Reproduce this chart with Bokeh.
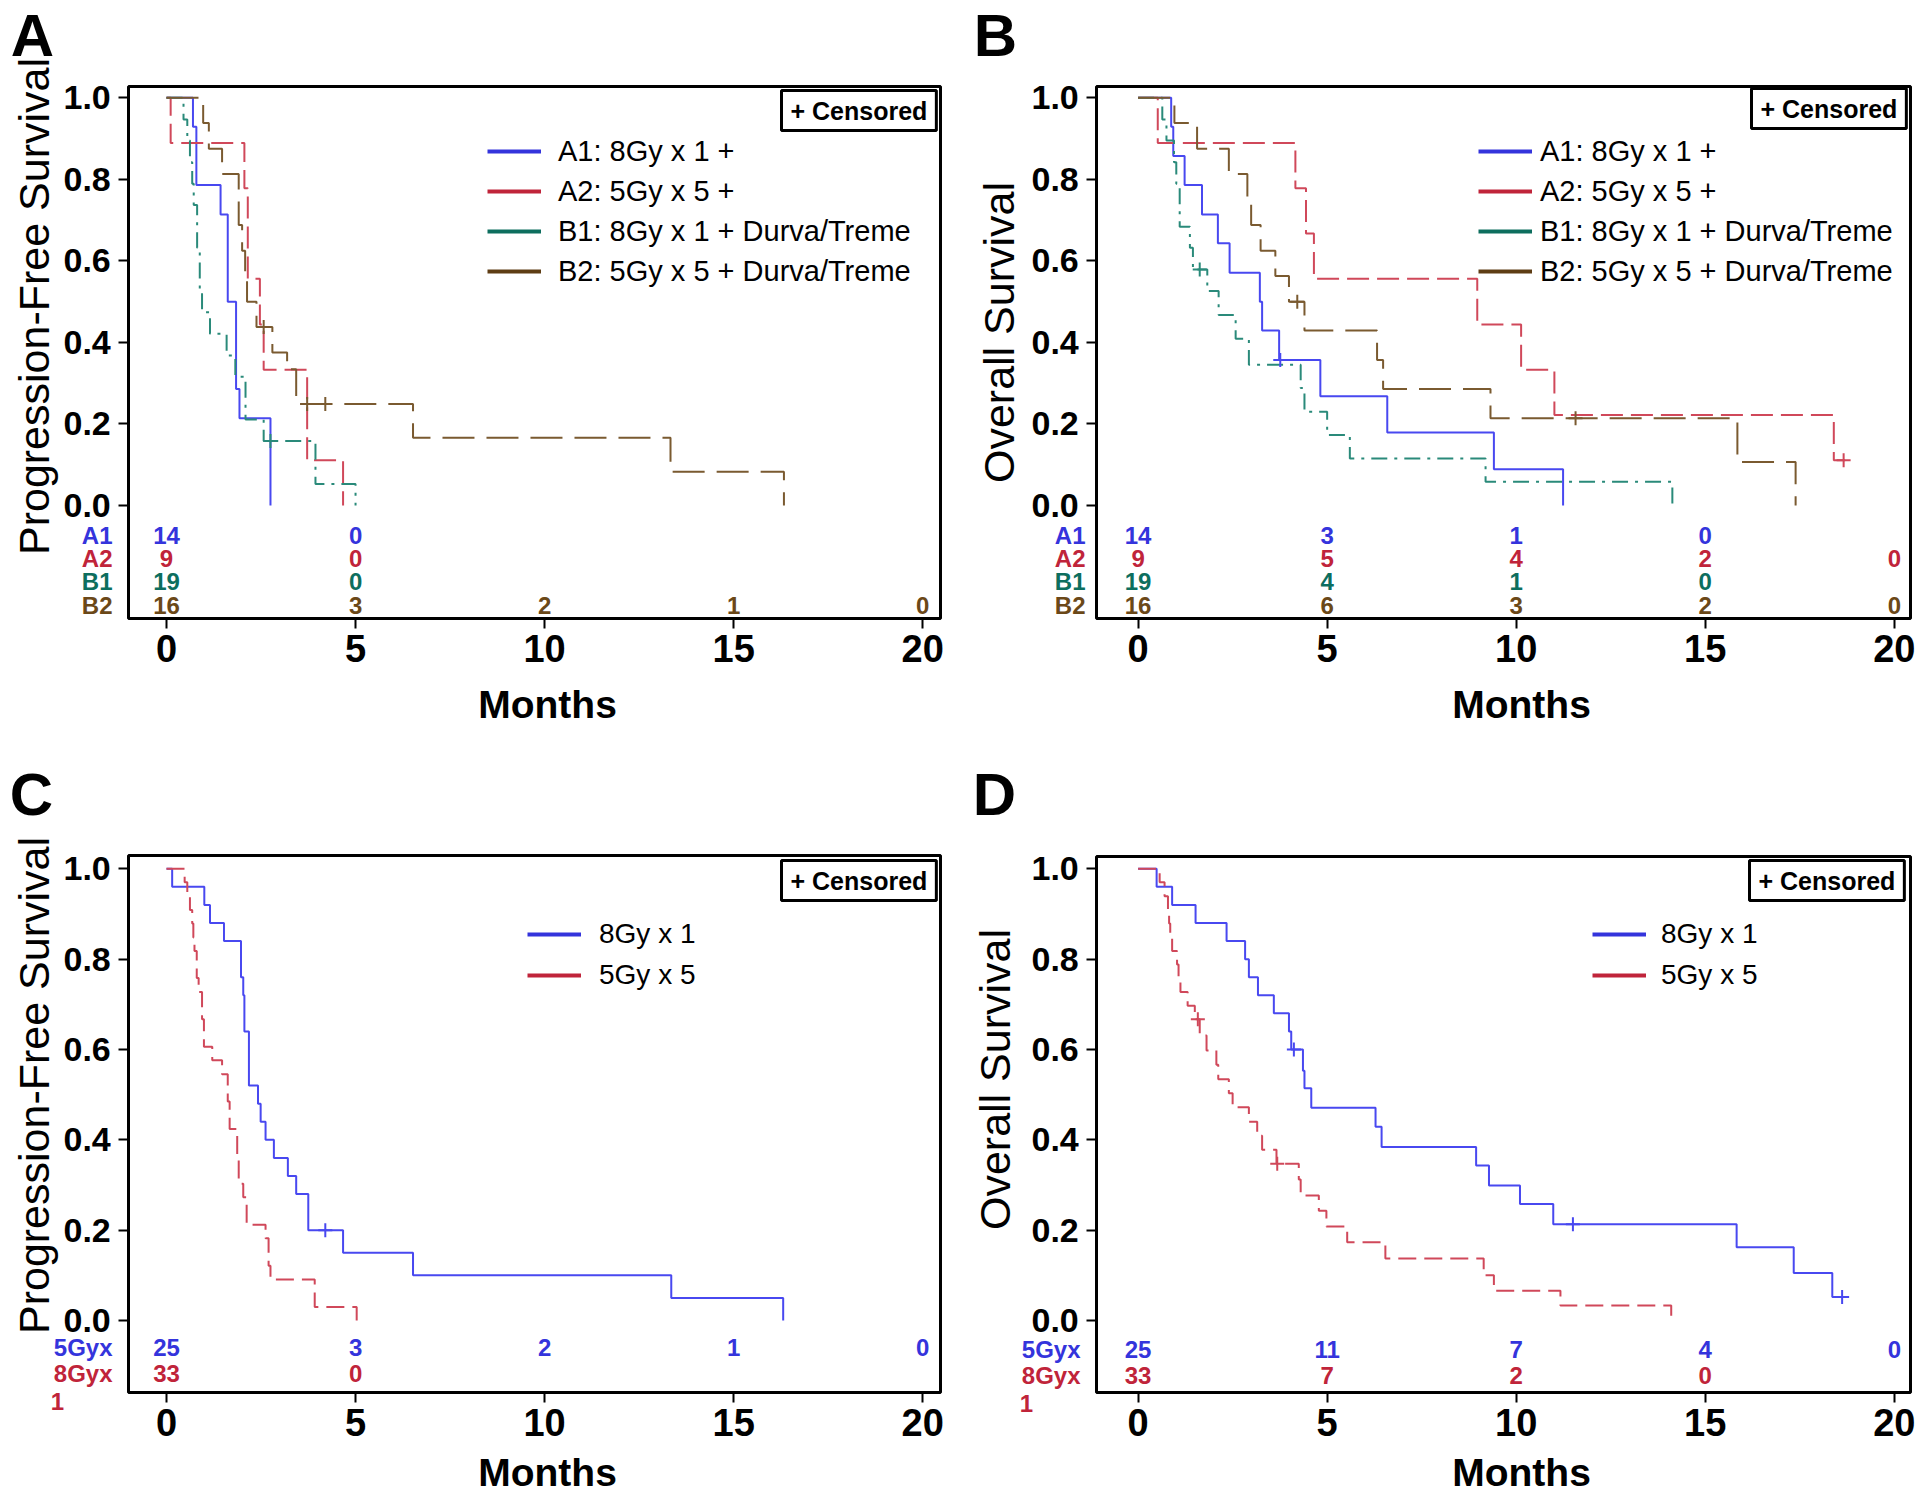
import math
from bokeh.plotting import figure
from bokeh.models import (FixedTicker, PrintfTickFormatter, Label, Legend, LegendItem,
                          ColumnDataSource, BoxAnnotation)
from bokeh.layouts import column, row
from bokeh.embed import file_html
from bokeh.resources import INLINE
from bokeh.core.properties import value

# ---------------- data ----------------
risk_times = [0, 5, 10, 15, 20]
x_ticks = [0, 5, 10, 15, 20]
y_ticks = [0.0, 0.2, 0.4, 0.6, 0.8, 1.0]

# Panel A: progression-free survival by arm
A1_pfs_t = [0, 0.70, 0.79, 1.43, 1.62, 1.84, 1.93, 2.75]
A1_pfs_s = [1.0, 0.929, 0.786, 0.714, 0.500, 0.286, 0.214, 0.0]
A2_pfs_t = [0, 0.11, 2.06, 2.15, 2.47, 2.57, 3.72, 4.67]
A2_pfs_s = [1.0, 0.889, 0.778, 0.556, 0.444, 0.333, 0.111, 0.0]
B1_pfs_t = [0, 0.45, 0.55, 0.62, 0.68, 0.72, 0.81, 0.88, 0.94, 1.15, 1.59, 1.82, 2.09, 2.57, 3.94, 5.00]
B1_pfs_s = [1.0, 0.947, 0.895, 0.842, 0.789, 0.737, 0.632, 0.526, 0.474, 0.421, 0.368, 0.316, 0.211, 0.158, 0.053, 0.0]
B2_pfs_t = [0, 0.97, 1.12, 1.47, 1.91, 2.00, 2.08, 2.13, 2.38, 2.80, 3.19, 3.43, 6.52, 13.33, 16.33]
B2_pfs_s = [1.0, 0.938, 0.875, 0.813, 0.688, 0.625, 0.563, 0.500, 0.438, 0.375, 0.334, 0.249, 0.166, 0.083, 0.0]
B1_pfs_cens_t = [2.75]
B1_pfs_cens_s = [0.158]
B2_pfs_cens_t = [2.57, 3.72, 4.20]
B2_pfs_cens_s = [0.438, 0.249, 0.249]
A_risk_A1 = [14, 0]
A_risk_A2 = [9, 0]
A_risk_B1 = [19, 0]
A_risk_B2 = [16, 3, 2, 1, 0]

# Panel B: overall survival by arm
A1_os_t = [0, 0.875, 0.93, 1.23, 1.69, 2.11, 2.42, 3.22, 3.28, 3.73, 4.82, 6.59, 9.41, 11.24]
A1_os_s = [1.0, 0.929, 0.857, 0.786, 0.714, 0.643, 0.571, 0.500, 0.429, 0.357, 0.268, 0.179, 0.089, 0.0]
A2_os_t = [0, 0.52, 4.16, 4.44, 4.65, 8.97, 10.13, 11.01, 18.40, 18.70]
A2_os_s = [1.0, 0.889, 0.778, 0.667, 0.556, 0.444, 0.333, 0.222, 0.111, 0.111]
B1_os_t = [0, 0.64, 0.75, 0.95, 1.01, 1.10, 1.37, 1.45, 1.83, 2.13, 2.58, 2.93, 4.30, 4.40, 5.00, 5.60, 9.19, 14.13]
B1_os_s = [1.0, 0.947, 0.895, 0.842, 0.789, 0.684, 0.632, 0.579, 0.526, 0.467, 0.409, 0.345, 0.288, 0.230, 0.173, 0.115, 0.058, 0.0]
B2_os_t = [0, 0.96, 1.56, 2.40, 2.89, 2.99, 3.24, 3.63, 3.99, 4.40, 6.32, 6.48, 9.32, 15.85, 17.39]
B2_os_s = [1.0, 0.938, 0.875, 0.813, 0.750, 0.688, 0.625, 0.563, 0.500, 0.429, 0.357, 0.286, 0.214, 0.107, 0.0]
A1_os_cens_t = [3.76]
A1_os_cens_s = [0.357]
A2_os_cens_t = [18.66]
A2_os_cens_s = [0.111]
B1_os_cens_t = [1.63]
B1_os_cens_s = [0.579]
B2_os_cens_t = [4.21, 11.57]
B2_os_cens_s = [0.500, 0.214]
B_risk_A1 = [14, 3, 1, 0]
B_risk_A2 = [9, 5, 4, 2, 0]
B_risk_B1 = [19, 4, 1, 0]
B_risk_B2 = [16, 6, 3, 2, 0]

# Panel C: progression-free survival by dose
C_blue_t = [0, 0.15, 1.00, 1.15, 1.52, 1.97, 2.03, 2.06, 2.18, 2.42, 2.49, 2.62, 2.84, 3.21, 3.43, 3.75, 4.67, 6.52, 13.35, 16.31]
C_blue_s = [1.0, 0.96, 0.92, 0.88, 0.84, 0.76, 0.72, 0.64, 0.52, 0.48, 0.44, 0.40, 0.36, 0.32, 0.28, 0.20, 0.15, 0.10, 0.05, 0.0]
C_red_t = [0, 0.48, 0.55, 0.62, 0.68, 0.71, 0.74, 0.80, 0.85, 0.94, 0.99, 1.21, 1.47, 1.62, 1.67, 1.87, 1.91, 2.03, 2.12, 2.62, 2.70, 2.75, 3.92, 5.03]
C_red_s = [1.0, 0.970, 0.939, 0.909, 0.879, 0.848, 0.818, 0.758, 0.727, 0.667, 0.606, 0.576, 0.545, 0.485, 0.424, 0.364, 0.303, 0.273, 0.212, 0.182, 0.121, 0.091, 0.030, 0.0]
C_blue_cens_t = [4.20]
C_blue_cens_s = [0.20]
C_risk_blue = [25, 3, 2, 1, 0]
C_risk_red = [33, 0]

# Panel D: overall survival by dose
D_blue_t = [0, 0.49, 0.90, 1.52, 2.34, 2.83, 2.93, 3.17, 3.59, 3.99, 4.05, 4.36, 4.40, 4.58, 6.28, 6.44, 8.94, 9.28, 10.10, 10.98, 15.83, 17.34, 18.36, 18.65]
D_blue_s = [1.0, 0.96, 0.92, 0.88, 0.84, 0.80, 0.76, 0.72, 0.68, 0.64, 0.60, 0.553, 0.514, 0.471, 0.429, 0.384, 0.343, 0.299, 0.258, 0.213, 0.162, 0.105, 0.052, 0.052]
D_red_t = [0, 0.57, 0.70, 0.79, 0.82, 0.85, 0.90, 1.03, 1.07, 1.12, 1.31, 1.50, 1.63, 1.81, 2.07, 2.12, 2.40, 2.50, 2.93, 3.15, 3.28, 3.66, 4.25, 4.30, 4.78, 4.98, 5.53, 6.54, 9.14, 9.41, 11.17, 14.10]
D_red_s = [1.0, 0.970, 0.939, 0.909, 0.879, 0.848, 0.818, 0.788, 0.758, 0.727, 0.697, 0.667, 0.631, 0.598, 0.566, 0.534, 0.503, 0.472, 0.440, 0.409, 0.378, 0.347, 0.312, 0.277, 0.243, 0.208, 0.173, 0.137, 0.100, 0.066, 0.033, 0.0]
D_blue_cens_t = [4.12, 11.50, 18.62]
D_blue_cens_s = [0.60, 0.213, 0.052]
D_red_cens_t = [1.58, 3.68]
D_red_cens_s = [0.667, 0.347]
D_risk_blue = [25, 11, 7, 4, 0]
D_risk_red = [33, 7, 2, 0]

arm_labels = ["A1: 8Gy x 1 +", "A2: 5Gy x 5 +", "B1: 8Gy x 1 + Durva/Treme", "B2: 5Gy x 5 + Durva/Treme"]
dose_labels = ["8Gy x 1", "5Gy x 5"]
arm_rows = ["A1", "A2", "B1", "B2"]
dose_rows = ["5Gyx", "8Gyx", "1"]

# ---------------- style ----------------
SANS = "Liberation Sans"
BLUE, RED, TEAL, BROWN = "#3434dc", "#c0243a", "#0d6e5e", "#5e3d14"
BLUE_C, RED_C, TEAL_C, BROWN_C = "#4848f0", "#d0485a", "#2a8a7a", "#7a5a30"
BROWN_T = "#6b4818"
SX = 37.81  # px per month


def geo(offx, offy, W, H, bl, br, bt, bb, x0, y0, sy):
    return dict(offx=offx, offy=offy, W=W, H=H, bl=bl, br=br, bt=bt, bb=bb,
                x0=x0, y0=y0, sy=sy)


def dx(g, px):
    return (px - g["x0"]) / SX


def dy(g, py):
    return (g["y0"] - py) / g["sy"]


def make_fig(g):
    p = figure(width=g["W"], height=g["H"],
               x_range=(dx(g, g["offx"]), dx(g, g["offx"] + g["W"])),
               y_range=(dy(g, g["offy"] + g["H"]), dy(g, g["offy"])),
               output_backend="svg", toolbar_location=None, title=None,
               x_axis_location="above", y_axis_location="right",
               min_border_left=0, min_border_right=0, min_border_top=0, min_border_bottom=0)
    p.xgrid.visible = False
    p.ygrid.visible = False
    p.outline_line_color = None
    p.background_fill_color = "white"
    p.border_fill_color = "white"
    # the plot box
    p.add_layout(BoxAnnotation(left=dx(g, g["bl"]), right=dx(g, g["br"]),
                               top=dy(g, g["bt"]), bottom=dy(g, g["bb"]),
                               fill_alpha=0, fill_color=None, line_color="black",
                               line_alpha=1, line_width=3))
    p.xaxis.ticker = FixedTicker(ticks=x_ticks)
    p.yaxis.ticker = FixedTicker(ticks=y_ticks)
    p.yaxis.formatter = PrintfTickFormatter(format="%.1f")
    for ax in (p.xaxis[0], p.yaxis[0]):
        ax.axis_line_color = None
        ax.major_tick_line_width = 2
        ax.major_tick_line_color = "black"
        ax.major_tick_out = 0
        ax.major_tick_in = 10
        ax.minor_tick_line_color = None
        ax.major_label_text_font = SANS
        ax.major_label_text_font_style = "bold"
        ax.major_label_text_color = "black"
    # x axis drawn along the bottom of the box, y axis along its left side
    p.xaxis.fixed_location = dy(g, g["bb"])
    p.yaxis.fixed_location = dx(g, g["bl"])
    p.xaxis.major_label_text_font_size = "38px"
    p.yaxis.major_label_text_font_size = "34px"
    p.xaxis.major_label_standoff = -43
    p.yaxis.major_label_standoff = -65
    return p


def curve(p, t, s, color, dash):
    p.step(x=t, y=s, mode="after", line_color=color, line_width=2, line_dash=dash)


def cens(p, t, s, color):
    p.scatter(x=t, y=s, marker="cross", size=14, line_width=2, line_color=color)


def risk(p, g, counts, py, color):
    src = ColumnDataSource(dict(x=risk_times[:len(counts)], y=[dy(g, py)] * len(counts),
                                text=[str(c) for c in counts]))
    p.text(x="x", y="y", text="text", source=src, text_font=value(SANS),
           text_font_style="bold", text_font_size="24px", text_align="center",
           text_baseline="middle", text_color=color)


def label(p, g, px, py, text, size, color="black", style="bold", align="center",
          angle=0.0, baseline="middle"):
    p.add_layout(Label(x=dx(g, px), y=dy(g, py), text=text, text_font=SANS,
                       text_font_size=size, text_font_style=style, text_color=color,
                       text_align=align, text_baseline=baseline, angle=angle))


def censored_box(p, g, px_left, py):
    p.add_layout(Label(x=dx(g, px_left), y=dy(g, py), text="+ Censored", text_font=SANS,
                       text_font_size="25px", text_font_style="bold", text_color="black",
                       text_align="left", text_baseline="middle",
                       border_line_color="black", border_line_width=3,
                       background_fill_color="white", padding=(9, 6)))


def legend(p, g, labels, colors, series, px_left, py_bottom, standoff, size, spacing):
    items = []
    for lab, col, (t, s) in zip(labels, colors, series):
        r = p.line(x=t, y=s, line_color=col, line_width=4, visible=False)
        items.append(LegendItem(label=lab, renderers=[r]))
    lg = Legend(items=items, location=(px_left - g["offx"], g["offy"] + g["H"] - py_bottom),
                glyph_width=54, glyph_height=34, label_height=34, label_standoff=standoff,
                spacing=spacing, padding=0, margin=0, border_line_color=None,
                background_fill_alpha=0, inactive_fill_alpha=0,
                label_text_font=SANS, label_text_font_size=size, label_text_color="black")
    p.add_layout(lg)


gA = geo(0, 0, 960, 745, 128, 940, 86, 618, 166.0, 505.0, 407.7)
gB = geo(960, 0, 960, 745, 1096, 1910, 86, 618, 1137.6, 505.0, 407.7)
gC = geo(0, 745, 960, 751, 128, 940, 855, 1392, 166.0, 1320.0, 451.7)
gD = geo(960, 745, 960, 751, 1096, 1910, 856, 1392, 1137.6, 1320.0, 451.7)

arm_colors = [BLUE, RED, TEAL, BROWN]
arm_text = [BLUE, RED, TEAL, BROWN_T]
rowsAB = [535, 558, 581, 605]

# ---- Panel A ----
pA = make_fig(gA)
curve(pA, A1_pfs_t, A1_pfs_s, BLUE_C, "solid")
curve(pA, A2_pfs_t, A2_pfs_s, RED_C, "22 8")
curve(pA, B1_pfs_t, B1_pfs_s, TEAL_C, "16 7 3 7")
curve(pA, B2_pfs_t, B2_pfs_s, BROWN_C, "32 12")
cens(pA, B1_pfs_cens_t, B1_pfs_cens_s, TEAL_C)
cens(pA, B2_pfs_cens_t, B2_pfs_cens_s, BROWN_C)
legend(pA, gA, arm_labels, arm_colors,
       [(A1_pfs_t, A1_pfs_s), (A2_pfs_t, A2_pfs_s), (B1_pfs_t, B1_pfs_s), (B2_pfs_t, B2_pfs_s)],
       487, 288, 17, "29px", 6)
censored_box(pA, gA, 781, 110)
for counts, py, col in zip([A_risk_A1, A_risk_A2, A_risk_B1, A_risk_B2], rowsAB, arm_text):
    risk(pA, gA, counts, py, col)
for lab, py, col in zip(arm_rows, rowsAB, arm_text):
    label(pA, gA, 112, py, lab, "24px", col, align="right")
label(pA, gA, 33, 306, "Progression-Free Survival", "43px", style="normal", angle=math.pi / 2)
label(pA, gA, 547, 704, "Months", "39px")
label(pA, gA, 32, 1, "A", "60px", baseline="top")

# ---- Panel B ----
pB = make_fig(gB)
curve(pB, A1_os_t, A1_os_s, BLUE_C, "solid")
curve(pB, A2_os_t, A2_os_s, RED_C, "22 8")
curve(pB, B1_os_t, B1_os_s, TEAL_C, "16 7 3 7")
curve(pB, B2_os_t, B2_os_s, BROWN_C, "32 12")
cens(pB, A1_os_cens_t, A1_os_cens_s, BLUE_C)
cens(pB, A2_os_cens_t, A2_os_cens_s, RED_C)
cens(pB, B1_os_cens_t, B1_os_cens_s, TEAL_C)
cens(pB, B2_os_cens_t, B2_os_cens_s, BROWN_C)
legend(pB, gB, arm_labels, arm_colors,
       [(A1_os_t, A1_os_s), (A2_os_t, A2_os_s), (B1_os_t, B1_os_s), (B2_os_t, B2_os_s)],
       1478, 288, 8, "29px", 6)
censored_box(pB, gB, 1751, 108)
for counts, py, col in zip([B_risk_A1, B_risk_A2, B_risk_B1, B_risk_B2], rowsAB, arm_text):
    risk(pB, gB, counts, py, col)
for lab, py, col in zip(arm_rows, rowsAB, arm_text):
    label(pB, gB, 1085, py, lab, "24px", col, align="right")
label(pB, gB, 998, 332, "Overall Survival", "43px", style="normal", angle=math.pi / 2)
label(pB, gB, 1521, 704, "Months", "39px")
label(pB, gB, 995, 1, "B", "60px", baseline="top")

# ---- Panel C ----
pC = make_fig(gC)
curve(pC, C_blue_t, C_blue_s, BLUE_C, "solid")
curve(pC, C_red_t, C_red_s, RED_C, "18 8")
cens(pC, C_blue_cens_t, C_blue_cens_s, BLUE_C)
legend(pC, gC, dose_labels, [BLUE, RED], [(C_blue_t, C_blue_s), (C_red_t, C_red_s)],
       527, 992, 18, "28px", 7)
censored_box(pC, gC, 781, 880)
risk(pC, gC, C_risk_blue, 1347, BLUE)
risk(pC, gC, C_risk_red, 1373, RED)
label(pC, gC, 112, 1347, dose_rows[0], "24px", BLUE, align="right")
label(pC, gC, 112, 1373, dose_rows[1], "24px", RED, align="right")
label(pC, gC, 57, 1401, dose_rows[2], "24px", RED)
label(pC, gC, 33, 1085, "Progression-Free Survival", "43px", style="normal", angle=math.pi / 2)
label(pC, gC, 547, 1472, "Months", "39px")
label(pC, gC, 31, 794, "C", "60px")

# ---- Panel D ----
pD = make_fig(gD)
curve(pD, D_blue_t, D_blue_s, BLUE_C, "solid")
curve(pD, D_red_t, D_red_s, RED_C, "18 8")
cens(pD, D_blue_cens_t, D_blue_cens_s, BLUE_C)
cens(pD, D_red_cens_t, D_red_cens_s, RED_C)
legend(pD, gD, dose_labels, [BLUE, RED], [(D_blue_t, D_blue_s), (D_red_t, D_red_s)],
       1592, 992, 15, "28px", 7)
censored_box(pD, gD, 1749, 880)
risk(pD, gD, D_risk_blue, 1349, BLUE)
risk(pD, gD, D_risk_red, 1375, RED)
label(pD, gD, 1080, 1349, dose_rows[0], "24px", BLUE, align="right")
label(pD, gD, 1080, 1375, dose_rows[1], "24px", RED, align="right")
label(pD, gD, 1026, 1403, dose_rows[2], "24px", RED)
label(pD, gD, 994, 1079, "Overall Survival", "43px", style="normal", angle=math.pi / 2)
label(pD, gD, 1521, 1472, "Months", "39px")
label(pD, gD, 994, 794, "D", "60px")

layout = column(row(pA, pB), row(pC, pD))
open("out.html", "w").write(file_html(layout, INLINE))
